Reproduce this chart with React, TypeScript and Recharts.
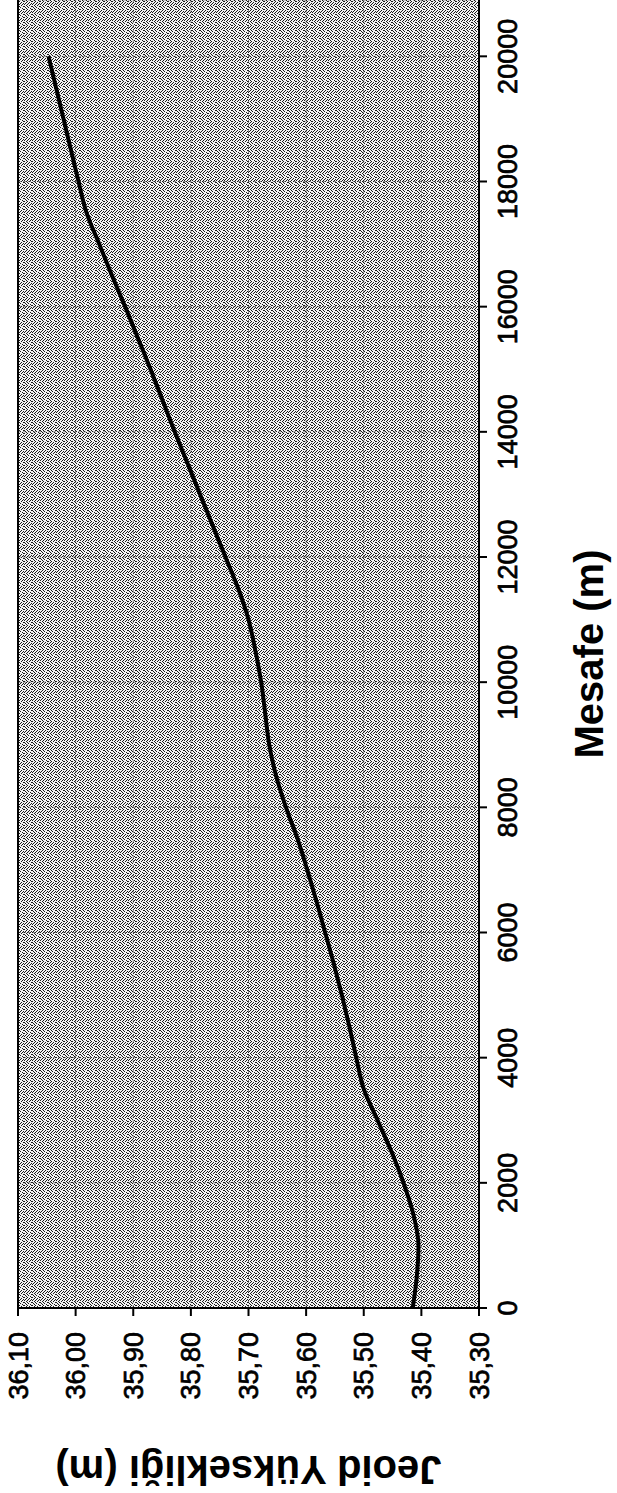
import React from 'react';
import { LineChart, Line, XAxis, YAxis, CartesianGrid, ReferenceLine } from 'recharts';

// Mesafe (m) ve jeoid yüksekliği (m)
const distance = [
  0, 500, 1000, 1500, 2000, 2500, 3000, 3500, 4000, 4500, 5000, 5500, 6000, 6500, 7000,
  7500, 8000, 8500, 9000, 9500, 10000, 10500, 11000, 11500, 12000, 12500, 13000, 13500,
  14000, 14500, 15000, 15500, 16000, 16500, 17000, 17500, 18000, 18500, 19000, 19500, 20000,
];
const geoidHeight = [
  35.415, 35.408, 35.405, 35.414, 35.431, 35.452, 35.476, 35.500, 35.513, 35.525, 35.538,
  35.552, 35.567, 35.582, 35.598, 35.615, 35.635, 35.652, 35.664, 35.671, 35.678, 35.688,
  35.700, 35.718, 35.740, 35.762, 35.784, 35.806, 35.828, 35.849, 35.870, 35.892, 35.914,
  35.937, 35.959, 35.981, 35.995, 36.008, 36.021, 36.034, 36.047,
];
const xTicks = [0, 2000, 4000, 6000, 8000, 10000, 12000, 14000, 16000, 18000, 20000];
const yTicks = [35.3, 35.4, 35.5, 35.6, 35.7, 35.8, 35.9, 36.0, 36.1];

const data = distance.map((d, i) => ({ mesafe: d, jeoid: geoidHeight[i] }));

const FONT = '"Liberation Sans", Arial, Helvetica, sans-serif';

const fmtHeight = (v: number) => v.toFixed(2).replace('.', ',');

// taranmış arka plan dokusu için nokta konumları (8x8 desen)
const stippleDots = [
  [0, 0], [3, 0], [6, 0], [1, 1], [5, 1], [2, 2], [4, 2], [7, 2], [0, 3], [3, 3], [6, 3],
  [1, 4], [5, 4], [7, 5], [2, 5], [4, 6], [0, 6], [6, 7], [3, 7], [1, 7],
];

// eksen başlığı, çevrilmiş grafikte ters okunuyor
const YTitle = (props: any) => {
  const vb = props.viewBox || { y: 17, height: 462 };
  const cx = 23;
  const cy = vb.y + vb.height / 2;
  return (
    <text
      x={cx}
      y={cy}
      transform={`rotate(-90, ${cx}, ${cy})`}
      textAnchor="middle"
      dy="0.35em"
      fontFamily={FONT}
      fontSize={40}
      fontWeight="bold"
      fill="#000"
    >
      Jeoid Yüksekliği (m)
    </text>
  );
};

export default function App() {
  return (
    <div style={{ position: 'absolute', left: 0, top: 0, width: 617, height: 1493, overflow: 'hidden', background: '#fff' }}>
      {/* grafik yatay çizilip saat yönünün tersine 90 derece döndürülüyor */}
      <div
        style={{
          position: 'absolute',
          left: 0,
          top: 0,
          width: 1493,
          height: 617,
          transformOrigin: '0 0',
          transform: 'translate(0px, 1493px) rotate(-90deg)',
        }}
      >
        <LineChart width={1493} height={617} data={data} margin={{ top: 18, right: 0, bottom: 0, left: 0 }}>
          <defs>
            <pattern id="stipple" width="8" height="8" patternUnits="userSpaceOnUse">
              <rect width="8" height="8" fill="#f2f2f2" />
              {stippleDots.map(([x, y], i) => (
                <rect key={i} x={x} y={y} width="1" height="1" fill="#1a1a1a" />
              ))}
            </pattern>
          </defs>
          <CartesianGrid fill="url(#stipple)" fillOpacity={1} stroke="#222" strokeOpacity={0.5} strokeDasharray="3 2" />
          <XAxis
            dataKey="mesafe"
            type="number"
            domain={[0, 20900]}
            ticks={xTicks}
            interval={0}
            height={138}
            tickSize={8}
            tickMargin={11}
            axisLine={{ stroke: '#000', strokeWidth: 2 }}
            tickLine={{ stroke: '#000', strokeWidth: 2 }}
            tick={{ fill: '#000', fontSize: 27, fontFamily: FONT, stroke: '#000', strokeWidth: 0.7 }}
            label={{
              value: 'Mesafe (m)',
              position: 'insideBottom',
              offset: 14,
              style: { fontFamily: FONT, fontSize: 40, fontWeight: 'bold', fill: '#000' },
            }}
          />
          <YAxis
            dataKey="jeoid"
            type="number"
            domain={[35.3, 36.1]}
            ticks={yTicks}
            interval={0}
            width={185}
            tickSize={8}
            tickMargin={16}
            tickFormatter={fmtHeight}
            axisLine={{ stroke: '#000', strokeWidth: 2 }}
            tickLine={{ stroke: '#000', strokeWidth: 2 }}
            tick={{ fill: '#000', fontSize: 27, fontFamily: FONT, stroke: '#000', strokeWidth: 0.7 }}
            label={{ content: (p: any) => <YTitle {...p} /> }}
          />
          <ReferenceLine y={36.1} stroke="#000" strokeWidth={2} />
          <Line
            dataKey="jeoid"
            type="monotone"
            stroke="#000"
            strokeWidth={4}
            dot={false}
            isAnimationActive={false}
          />
        </LineChart>
      </div>
    </div>
  );
}
